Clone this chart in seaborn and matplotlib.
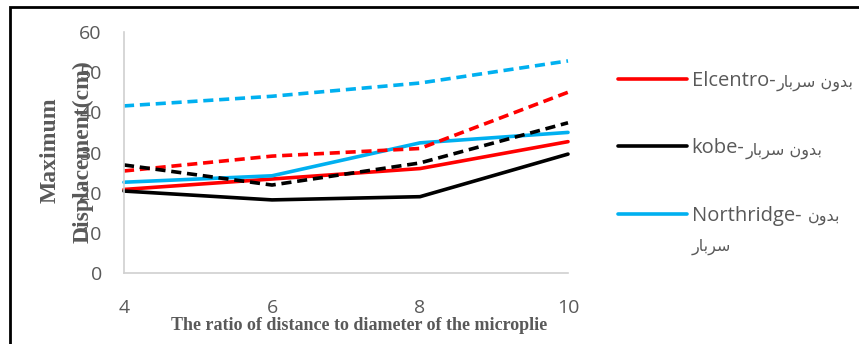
import numpy as np
import pandas as pd
import matplotlib
matplotlib.use("Agg")
import matplotlib.pyplot as plt
import seaborn as sns

# ============================================
# DATA
# ============================================
ratio = [4, 6, 8, 10]

elcentro_solid = [20.8, 23.4, 26.0, 32.7]
kobe_solid = [20.4, 18.2, 19.0, 29.6]
northridge_solid = [22.6, 24.2, 32.4, 35.0]

elcentro_dash = [25.4, 29.1, 31.0, 45.0]
kobe_dash = [26.9, 21.9, 27.4, 37.4]
northridge_dash = [41.6, 44.0, 47.3, 52.8]

# Arabic "بدون سربار" in visual (left-to-right) presentation forms
ar_bedun = "\ufee5\ufeed\ufeaa\ufe91"
ar_sarbar = "\ufead\ufe8e\ufe91\ufeae\ufeb3"
labels = ["Elcentro-", "kobe-", "Northridge- "]
ar_suffix = [ar_sarbar + " " + ar_bedun, ar_sarbar + " " + ar_bedun, ar_bedun]

red = "#FF0000"
black = "#000000"
blue = "#00B0F0"
grey = "#595959"

# ============================================
# PLOT
# ============================================
sns.set_style("white")
plt.rcParams['font.family'] = ['Open Sans', 'DejaVu Sans']

fig = plt.figure(figsize=(8.59, 3.44), dpi=100)
ax = fig.add_axes([124 / 859, 71 / 344, 444 / 859, 241 / 344])

lw = 2.6
solids = [(elcentro_solid, red), (kobe_solid, black), (northridge_solid, blue)]
dashed = [(elcentro_dash, red), (kobe_dash, black), (northridge_dash, blue)]

handles = []
for vals, c in solids:
    sns.lineplot(x=ratio, y=vals, color=c, linewidth=lw, ax=ax, clip_on=False)
    handles.append(ax.lines[-1])
for vals, c in dashed:
    sns.lineplot(x=ratio, y=vals, color=c, linewidth=lw, ax=ax, clip_on=False)
    ax.lines[-1].set_dashes([2.8, 1.6])

ax.set_xlim(4, 10)
ax.set_ylim(0, 60)
ax.set_xticks(ratio)
ax.set_yticks(range(0, 61, 10))
ax.tick_params(axis='both', length=0, labelsize=14, labelcolor=grey)
ax.tick_params(axis='x', pad=19)
ax.tick_params(axis='y', pad=16)
for s in ['top', 'right']:
    ax.spines[s].set_visible(False)
for s in ['left', 'bottom']:
    ax.spines[s].set_color('#D0D0D0')
    ax.spines[s].set_linewidth(1.2)
ax.set_xlabel("")
ax.set_ylabel("")

# axis titles (serif bold, grey)
fig.text(359 / 859, 1 - 325 / 344, "The ratio of distance to diameter of the microplie",
         family=['Liberation Serif'], fontweight='bold', fontsize=13,
         color=grey, ha='center', va='center')
fig.text(50 / 859, 1 - 150 / 344, "Maximum", family=['Liberation Serif'],
         fontweight='bold', fontsize=17, color=grey, rotation=90,
         ha='center', va='center')
fig.text(83 / 859, 1 - 152 / 344, "Displacement(cm)", family=['Liberation Serif'],
         fontweight='bold', fontsize=17, color=grey, rotation=90,
         ha='center', va='center')

# legend (only the solid series, as in the reference)
leg = fig.legend(handles, labels, loc='upper left',
                 bbox_to_anchor=(600 / 859, 1 - 53 / 344), frameon=False,
                 fontsize=14.5, handlelength=3.4, handletextpad=0.25,
                 labelspacing=2.35, labelcolor=grey)

# Arabic part of each legend label, in a smaller size right after the latin text
fig.canvas.draw()
r = fig.canvas.get_renderer()
inv = fig.transFigure.inverted()
for t, suf in zip(leg.get_texts(), ar_suffix):
    bb = t.get_window_extent(r)
    x0, y0 = inv.transform((bb.x1 + 1, (bb.y0 + bb.y1) / 2 - 2))
    fig.text(x0, y0, suf, fontsize=11.5, color=grey, family=['DejaVu Sans'],
             ha='left', va='center')
    last = bb
x0, y0 = inv.transform((last.x0, (last.y0 + last.y1) / 2 - 31))
fig.text(x0, y0, ar_sarbar, fontsize=11.5, color=grey, family=['DejaVu Sans'],
         ha='left', va='center')

# outer frame (left and top edges visible)
fig.add_artist(plt.Rectangle((10 / 859, -0.1), 1.2, 1.1 - 7 / 344,
                             transform=fig.transFigure, fill=False,
                             edgecolor='black', linewidth=2))

fig.savefig("out.png", dpi=100)
